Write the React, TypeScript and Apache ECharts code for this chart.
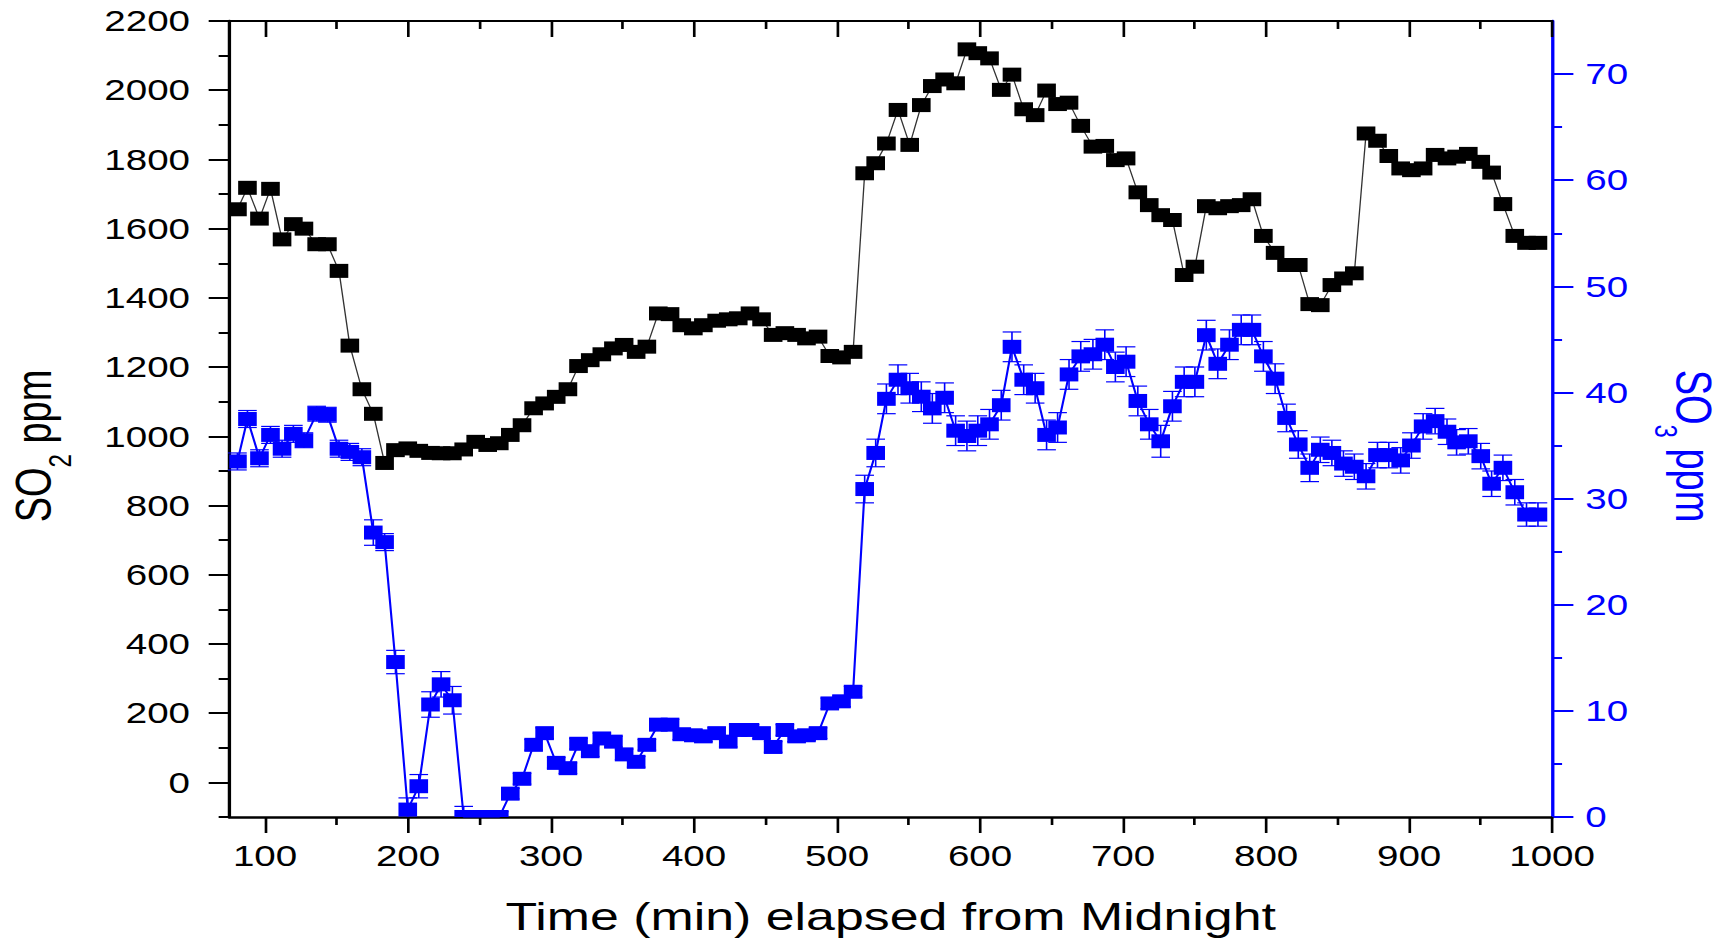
import React, { useEffect, useRef } from "react";
import * as echarts from "echarts";

// ---- data ----
const timeMin = [
  80.7, 87.7, 96.1, 103.8, 111.9, 119.8, 127.2, 136.1, 143.6, 151.7,
  159.3, 167.7, 175.7, 183.6, 191.2, 199.8, 207.5, 215.7, 223.1, 231.0,
  238.9, 247.3, 255.7, 263.8, 271.5, 279.7, 287.8, 295.5, 303.6, 311.8,
  319.2, 327.4, 335.5, 343.6, 351.1, 359.5, 367.0, 375.0, 383.2, 391.4,
  399.5, 406.5, 415.8, 423.9, 430.9, 439.1, 447.2, 455.3, 463.5, 471.7,
  478.6, 486.7, 494.9, 503.1, 511.2, 519.3, 527.0, 534.5, 542.6, 550.8,
  558.9, 566.6, 575.2, 582.9, 590.8, 598.4, 606.6, 614.8, 622.3, 630.5,
  638.5, 646.5, 654.2, 662.2, 670.4, 678.9, 687.2, 694.6, 702.1, 710.3,
  718.3, 726.3, 734.5, 742.7, 750.2, 758.2, 766.2, 774.4, 782.6, 790.1,
  798.1, 806.3, 814.3, 822.5, 830.5, 837.9, 846.0, 854.1, 861.7, 869.9,
  877.9, 885.8, 894.1, 901.6, 909.8, 918.2, 926.5, 933.2, 941.4, 950.1,
  957.7, 965.6, 973.9, 982.1, 990.1,
];

const so2Ppm = [
  1656, 1718, 1629, 1715, 1569, 1613, 1600, 1555, 1555, 1478,
  1262, 1136, 1065, 923, 960, 965, 958, 952, 951, 951,
  962, 984, 975, 980, 1004, 1032, 1081, 1095, 1114, 1136,
  1203, 1220, 1237, 1254, 1264, 1244, 1259, 1355, 1353, 1321,
  1312, 1321, 1334, 1338, 1341, 1355, 1338, 1293, 1298, 1293,
  1283, 1288, 1232, 1228, 1244, 1760, 1789, 1846, 1943, 1842,
  1957, 2012, 2031, 2020, 2118, 2107, 2092, 2001, 2045, 1945,
  1928, 1999, 1960, 1964, 1897, 1837, 1839, 1798, 1803, 1705,
  1668, 1639, 1625, 1466, 1490, 1665, 1659, 1665, 1668, 1685,
  1579, 1530, 1495, 1495, 1382, 1379, 1437, 1456, 1471, 1875,
  1854, 1810, 1774, 1769, 1774, 1813, 1803, 1808, 1816, 1793,
  1762, 1671, 1579, 1559, 1559,
];

const so3Ppm = [
  33.5, 37.5, 33.8, 36.0, 34.7, 36.1, 35.5, 38.0, 37.9, 34.7,
  34.4, 33.9, 26.8, 25.9, 14.6, 0.7, 2.9, 10.6, 12.5, 11.0,
  0.0, 0.0, 0.0, 0.0, 2.2, 3.6, 6.8, 7.9, 5.1, 4.6,
  6.9, 6.2, 7.4, 7.1, 5.9, 5.2, 6.8, 8.7, 8.7, 7.8,
  7.7, 7.6, 7.9, 7.1, 8.2, 8.2, 7.9, 6.6, 8.2, 7.6,
  7.7, 7.9, 10.7, 10.9, 11.8, 30.9, 34.3, 39.4, 41.2, 40.4,
  39.6, 38.5, 39.5, 36.4, 35.9, 36.4, 37.0, 38.8, 44.3, 41.2,
  40.4, 36.0, 36.7, 41.7, 43.4, 43.6, 44.5, 42.4, 42.9, 39.2,
  37.0, 35.4, 38.7, 41.0, 41.0, 45.4, 42.7, 44.5, 45.9, 45.9,
  43.4, 41.3, 37.6, 35.1, 32.9, 34.6, 34.3, 33.3, 33.0, 32.1,
  34.1, 34.1, 33.6, 35.0, 36.8, 37.3, 36.3, 35.3, 35.4, 34.0,
  31.4, 32.9, 30.6, 28.5, 28.5,
];

const so3Err = [
  0.8, 0.8, 0.8, 0.8, 0.8, 0.8, 0.7, 0.7, 0.7, 0.8,
  0.8, 0.8, 1.2, 0.8, 1.1, 1.1, 1.1, 1.2, 1.2, 1.3,
  1.0, 0.5, 0.5, 0.5, 0.5, 0.5, 0.5, 0.5, 0.5, 0.5,
  0.5, 0.5, 0.5, 0.5, 0.5, 0.5, 0.5, 0.5, 0.5, 0.5,
  0.5, 0.5, 0.5, 0.5, 0.5, 0.5, 0.5, 0.5, 0.5, 0.5,
  0.5, 0.5, 0.5, 0.5, 0.5, 1.3, 1.3, 1.4, 1.4, 1.4,
  1.4, 1.4, 1.4, 1.4, 1.4, 1.4, 1.4, 1.4, 1.4, 1.4,
  1.4, 1.4, 1.4, 1.4, 1.4, 1.4, 1.4, 1.4, 1.4, 1.4,
  1.4, 1.5, 1.4, 1.4, 1.4, 1.4, 1.4, 1.4, 1.4, 1.4,
  1.4, 1.4, 1.3, 1.3, 1.3, 1.2, 1.2, 1.2, 1.2, 1.2,
  1.2, 1.2, 1.2, 1.2, 1.2, 1.2, 1.2, 1.2, 1.2, 1.2,
  1.2, 1.2, 1.2, 1.1, 1.1,
];

const xTicks = [100, 200, 300, 400, 500, 600, 700, 800, 900, 1000];
const xMinorTicks = [150, 250, 350, 450, 550, 650, 750, 850, 950];
const so2Ticks = [0, 200, 400, 600, 800, 1000, 1200, 1400, 1600, 1800, 2000, 2200];
const so2MinorTicks = [-100, 100, 300, 500, 700, 900, 1100, 1300, 1500, 1700, 1900, 2100];
const so3Ticks = [0, 10, 20, 30, 40, 50, 60, 70];
const so3MinorTicks = [5, 15, 25, 35, 45, 55, 65];

const xTitle = "Time (min) elapsed from Midnight";

// ---- layout ----
const STRETCH = 1.33;
const W = 1295;
const H = 943;
const FONT = "'Liberation Sans', Arial, sans-serif";
const BLUE = "#0000ff";
const plain = (v: number) => String(v);

export default function App() {
  const ref = useRef<HTMLDivElement>(null);

  useEffect(() => {
    if (!ref.current) return;
    const chart = echarts.init(ref.current, undefined, { renderer: "svg" });

    const so2Data = timeMin.map((t, i) => [t, so2Ppm[i]]);
    const so3Data = timeMin.map((t, i) => [t, so3Ppm[i]]);
    const so3ErrData = timeMin.map((t, i) => [t, so3Ppm[i], so3Err[i]]);

    const option: any = {
      animation: false,
      backgroundColor: "#ffffff",
      grid: { left: 172.4, right: 128, top: 21, bottom: 126, containLabel: false },
      xAxis: [
        {
          type: "value",
          position: "bottom",
          min: 75,
          max: 1000,
          axisLine: { show: true, onZero: false, lineStyle: { color: "#000", width: 2.5 } },
          axisTick: { show: true, inside: false, length: 16, customValues: xTicks, lineStyle: { color: "#000", width: 2 } },
          axisLabel: { show: true, customValues: xTicks, formatter: plain, fontSize: 29, fontFamily: FONT, color: "#000", margin: 24 },
          splitLine: { show: false },
          name: xTitle,
          nameLocation: "middle",
          nameGap: 80,
          nameTextStyle: { fontSize: 39, fontFamily: FONT, color: "#000" },
        },
        {
          type: "value",
          position: "bottom",
          min: 75,
          max: 1000,
          axisLine: { show: false, onZero: false },
          axisTick: { show: true, inside: false, length: 8, customValues: xMinorTicks, lineStyle: { color: "#000", width: 2 } },
          axisLabel: { show: false },
          splitLine: { show: false },
        },
        {
          type: "value",
          position: "top",
          min: 75,
          max: 1000,
          axisLine: { show: true, onZero: false, lineStyle: { color: "#000", width: 2 } },
          axisTick: { show: true, inside: true, length: 16, customValues: xTicks, lineStyle: { color: "#000", width: 2 } },
          axisLabel: { show: false },
          splitLine: { show: false },
        },
        {
          type: "value",
          position: "top",
          min: 75,
          max: 1000,
          axisLine: { show: false, onZero: false },
          axisTick: { show: true, inside: true, length: 8, customValues: xMinorTicks, lineStyle: { color: "#000", width: 2 } },
          axisLabel: { show: false },
          splitLine: { show: false },
        },
      ],
      yAxis: [
        {
          type: "value",
          position: "left",
          min: -100,
          max: 2200,
          axisLine: { show: true, onZero: false, lineStyle: { color: "#000", width: 2.5 } },
          axisTick: { show: true, inside: false, length: 15.5, customValues: so2Ticks, lineStyle: { color: "#000", width: 2 } },
          axisLabel: { show: true, customValues: so2Ticks, formatter: plain, fontSize: 29, fontFamily: FONT, color: "#000", margin: 29.5 },
          splitLine: { show: false },
        },
        {
          type: "value",
          position: "left",
          min: -100,
          max: 2200,
          axisLine: { show: false, onZero: false },
          axisTick: { show: true, inside: false, length: 8, customValues: so2MinorTicks, lineStyle: { color: "#000", width: 2 } },
          axisLabel: { show: false },
          splitLine: { show: false },
        },
        {
          type: "value",
          position: "right",
          min: 0,
          max: 75,
          axisLine: { show: true, onZero: false, lineStyle: { color: BLUE, width: 2.5 } },
          axisTick: { show: true, inside: false, length: 16, customValues: so3Ticks, lineStyle: { color: BLUE, width: 2 } },
          axisLabel: { show: true, customValues: so3Ticks, formatter: plain, fontSize: 29, fontFamily: FONT, color: BLUE, margin: 25 },
          splitLine: { show: false },
        },
        {
          type: "value",
          position: "right",
          min: 0,
          max: 75,
          axisLine: { show: false, onZero: false },
          axisTick: { show: true, inside: false, length: 7.5, customValues: so3MinorTicks, lineStyle: { color: BLUE, width: 2 } },
          axisLabel: { show: false },
          splitLine: { show: false },
        },
      ],
      graphic: [
        {
          type: "text",
          x: 24.8,
          y: 446,
          rotation: Math.PI / 2,
          style: {
            text: "{a|SO}{b|2}{a| ppm}",
            align: "center",
            verticalAlign: "middle",
            rich: {
              a: { fontSize: 38, fontFamily: FONT, fill: "#000", color: "#000", lineHeight: 46 },
              b: { fontSize: 24, fontFamily: FONT, fill: "#000", color: "#000", lineHeight: 20, padding: [40, 0, 0, 0] },
            },
          },
        },
        {
          type: "text",
          x: 1273,
          y: 446,
          rotation: -Math.PI / 2,
          style: {
            text: "{a|SO}{b|3}{a| ppm}",
            align: "center",
            verticalAlign: "middle",
            rich: {
              a: { fontSize: 38, fontFamily: FONT, fill: BLUE, color: BLUE, lineHeight: 46 },
              b: { fontSize: 24, fontFamily: FONT, fill: BLUE, color: BLUE, lineHeight: 20, padding: [40, 0, 0, 0] },
            },
          },
        },
      ],
      series: [
        {
          name: "SO3 line",
          type: "line",
          xAxisIndex: 0,
          yAxisIndex: 2,
          data: so3Data,
          symbol: "none",
          showSymbol: false,
          lineStyle: { color: BLUE, width: 1.6 },
          z: 2,
        },
        {
          name: "SO3",
          type: "custom",
          xAxisIndex: 0,
          yAxisIndex: 2,
          data: so3ErrData,
          encode: { x: 0, y: 1 },
          z: 3,
          renderItem: (params: any, api: any) => {
            const t = api.value(0);
            const v = api.value(1);
            const e = api.value(2);
            const c = api.coord([t, v]);
            const top = api.coord([t, v + e]);
            const bot = api.coord([t, v - e]);
            const cs = params.coordSys;
            const yMin = cs.y;
            const yMax = cs.y + cs.height;
            const clampY = (y: number) => Math.min(Math.max(y, yMin), yMax);
            const half = 7;
            const cap = 7;
            const lineStyle = { stroke: BLUE, lineWidth: 1.2 };
            const children: any[] = [];
            children.push({
              type: "line",
              shape: { x1: c[0], y1: clampY(top[1]), x2: c[0], y2: clampY(bot[1]) },
              style: lineStyle,
            });
            if (top[1] >= yMin) {
              children.push({ type: "line", shape: { x1: c[0] - cap, y1: top[1], x2: c[0] + cap, y2: top[1] }, style: lineStyle });
            }
            if (bot[1] <= yMax) {
              children.push({ type: "line", shape: { x1: c[0] - cap, y1: bot[1], x2: c[0] + cap, y2: bot[1] }, style: lineStyle });
            }
            const r = echarts.graphic.clipRectByRect(
              { x: c[0] - half, y: c[1] - half, width: half * 2, height: half * 2 },
              { x: cs.x, y: cs.y, width: cs.width, height: cs.height }
            );
            if (r) children.push({ type: "rect", shape: r, style: { fill: BLUE } });
            return { type: "group", children };
          },
        },
        {
          name: "SO2",
          type: "line",
          xAxisIndex: 0,
          yAxisIndex: 0,
          data: so2Data,
          symbol: "rect",
          symbolSize: 14,
          showSymbol: true,
          itemStyle: { color: "#000" },
          lineStyle: { color: "#333", width: 1 },
          z: 4,
        },
      ],
    };

    chart.setOption(option);
    return () => {
      chart.dispose();
    };
  }, []);

  return (
    <div
      style={{
        position: "fixed",
        left: 0,
        top: 0,
        width: 1722,
        height: 943,
        overflow: "hidden",
        background: "#fff",
      }}
    >
      <div
        ref={ref}
        style={{
          width: W,
          height: H,
          transform: `scaleX(${STRETCH})`,
          transformOrigin: "0 0",
        }}
      />
    </div>
  );
}
